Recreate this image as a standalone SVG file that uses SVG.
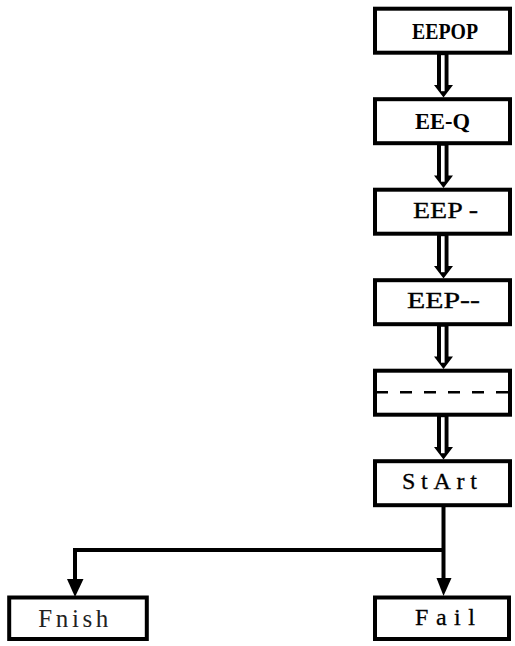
<svg xmlns="http://www.w3.org/2000/svg" xmlns:xlink="http://www.w3.org/1999/xlink" width="515" height="646" viewBox="0 0 515 646">
<style>
.box{fill:#fff;stroke:#000;stroke-width:4}
.t{font-family:"Liberation Serif",serif;font-size:24px;font-weight:bold;fill:#000}
.n{font-family:"Liberation Serif",serif;font-size:24px;font-weight:normal;fill:#000;stroke:#000;stroke-width:0.3}
.ln{fill:none;stroke:#000;stroke-width:4}
</style>
<defs>
<g id="dbl">
<polygon points="437,0 448.5,0 448.5,32.3 453,32.3 443.5,44.8 434,32.3 437,32.3" fill="#000"/>
<rect x="441" y="2.5" width="3.6" height="36" fill="#fff"/>
</g>
</defs>
<rect width="515" height="646" fill="#fff"/>
<g id="connectors">
<use xlink:href="#dbl" transform="translate(0,52.7)"/>
<use xlink:href="#dbl" transform="translate(0,143.2)"/>
<use xlink:href="#dbl" transform="translate(0,233.7)"/>
<use xlink:href="#dbl" transform="translate(0,324.2)"/>
<use xlink:href="#dbl" transform="translate(0,414.7)"/>
<polyline class="ln" points="443.5,505 443.5,582"/>
<polygon points="436.5,578 451.5,578 443.5,596" fill="#000"/>
<polyline class="ln" points="443.5,550 75,550 75,582"/>
<polygon points="67,579 83.5,579 75,597" fill="#000"/>
</g>
<g id="n1"><rect class="box" x="375" y="8.7" width="135" height="44"/><text class="t" x="412" y="38.6" textLength="66" lengthAdjust="spacingAndGlyphs">EEPOP</text></g>
<g id="n2"><rect class="box" x="375" y="99.2" width="135" height="44"/><text class="t" x="415" y="128.6" textLength="55" lengthAdjust="spacingAndGlyphs">EE-Q</text></g>
<g id="n3"><rect class="box" x="375" y="189.7" width="135" height="44"/><text class="n" x="413" y="217.7" textLength="65" lengthAdjust="spacingAndGlyphs">EEP -</text></g>
<g id="n4"><rect class="box" x="375" y="280.2" width="135" height="44"/><text class="n" x="407" y="307.7" textLength="73" lengthAdjust="spacingAndGlyphs">EEP--</text></g>
<g id="n5"><rect class="box" x="375" y="370.7" width="135" height="44"/><line x1="376" y1="392.3" x2="510" y2="392.3" stroke="#000" stroke-width="2.6" stroke-dasharray="12,12"/></g>
<g id="n6"><rect class="box" x="375" y="461.2" width="135" height="44"/><text class="n" x="402" y="488.7" textLength="75" lengthAdjust="spacing">StArt</text></g>
<g id="n7"><rect class="box" x="375" y="597.5" width="134" height="41.5"/><text class="n" x="415" y="625.2" textLength="60" lengthAdjust="spacing">Fail</text></g>
<g id="n8"><rect class="box" x="9.2" y="597.5" width="137.6" height="41.5"/><text class="n" x="38.3" y="627" textLength="70" lengthAdjust="spacing" style="font-size:25px;fill:#222;stroke:none">Fnish</text></g>
</svg>
